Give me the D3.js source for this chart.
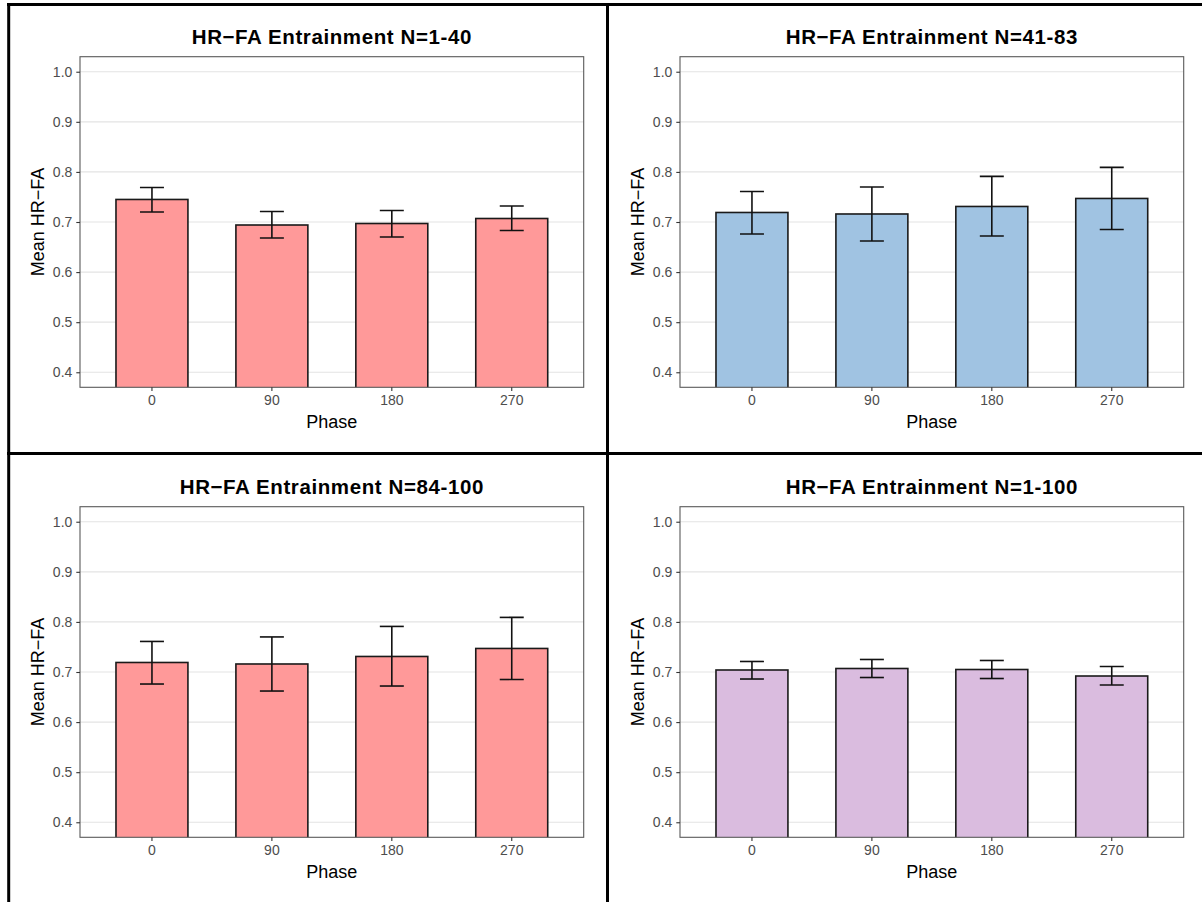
<!DOCTYPE html>
<html>
<head>
<meta charset="utf-8">
<script src="https://cdnjs.cloudflare.com/ajax/libs/d3/7.8.5/d3.min.js"></script>
<style>
  html, body { margin: 0; padding: 0; background: #fff; }
  svg { display: block; font-family: "Liberation Sans", Arial, Helvetica, sans-serif; }
</style>
</head>
<body>
<svg id="chart" width="1202" height="902"></svg>
<script>
// ---- data ----
const phases = ["0", "90", "180", "270"];
const yTicks = [0.4, 0.5, 0.6, 0.7, 0.8, 0.9, 1.0];

const titles = [
  "HR\u2212FA Entrainment N=1-40",
  "HR\u2212FA Entrainment N=41-83",
  "HR\u2212FA Entrainment N=84-100",
  "HR\u2212FA Entrainment N=1-100"
];
const fills = ["#FF9999", "#A0C3E2", "#FF9999", "#DABCDF"];

const means1 = [0.745, 0.694, 0.697, 0.707];
const upper1 = [0.769, 0.721, 0.723, 0.732];
const lower1 = [0.720, 0.668, 0.670, 0.683];

const means2 = [0.719, 0.716, 0.731, 0.747];
const upper2 = [0.761, 0.770, 0.791, 0.809];
const lower2 = [0.676, 0.662, 0.672, 0.685];

const means3 = [0.719, 0.716, 0.731, 0.747];
const upper3 = [0.761, 0.770, 0.791, 0.809];
const lower3 = [0.676, 0.662, 0.672, 0.685];

const means4 = [0.704, 0.707, 0.705, 0.692];
const upper4 = [0.721, 0.725, 0.723, 0.711];
const lower4 = [0.686, 0.689, 0.687, 0.674];

const xTitle = "Phase";
const yTitle = "Mean HR\u2212FA";

const panels = [
  { title: titles[0], fill: fills[0], means: means1, upper: upper1, lower: lower1, ox: 0, oy: 0 },
  { title: titles[1], fill: fills[1], means: means2, upper: upper2, lower: lower2, ox: 600, oy: 0 },
  { title: titles[2], fill: fills[2], means: means3, upper: upper3, lower: lower3, ox: 0, oy: 450 },
  { title: titles[3], fill: fills[3], means: means4, upper: upper4, lower: lower4, ox: 600, oy: 450 }
];

// ---- layout ----
const svg = d3.select("#chart");
const PL = 80, PR = 583.7, PT = 56.7, PB = 387.3;

const x = d3.scaleBand().domain(phases).range([PL, PR]).paddingInner(0.4).paddingOuter(0.3);
const y = d3.scaleLinear().domain([0.37, 1.03]).range([PB, PT]);

panels.forEach((p, i) => {
  const g = svg.append("g").attr("transform", `translate(${p.ox},${p.oy})`);
  const clipId = "clip" + i;
  g.append("clipPath").attr("id", clipId)
    .append("rect").attr("x", PL).attr("y", PT).attr("width", PR - PL).attr("height", PB - PT);

  // gridlines
  g.append("g").selectAll("line").data(yTicks).join("line")
    .attr("x1", PL).attr("x2", PR)
    .attr("y1", d => y(d)).attr("y2", d => y(d))
    .attr("stroke", "#E3E3E3").attr("stroke-width", 1.2);

  const plot = g.append("g").attr("clip-path", `url(#${clipId})`);
  // bars
  plot.selectAll("rect.bar").data(phases).join("rect")
    .attr("class", "bar")
    .attr("x", d => x(d))
    .attr("width", x.bandwidth())
    .attr("y", (d, j) => y(p.means[j]))
    .attr("height", (d, j) => y(0) - y(p.means[j]))
    .attr("fill", p.fill)
    .attr("stroke", "#1a1a1a").attr("stroke-width", 1.6);

  // error bars
  const capW = x.step() * 0.2;
  const eb = plot.selectAll("g.eb").data(phases).join("g").attr("class", "eb");
  eb.append("line")
    .attr("x1", d => x(d) + x.bandwidth() / 2).attr("x2", d => x(d) + x.bandwidth() / 2)
    .attr("y1", (d, j) => y(p.upper[j])).attr("y2", (d, j) => y(p.lower[j]))
    .attr("stroke", "#111").attr("stroke-width", 1.6);
  eb.append("line")
    .attr("x1", d => x(d) + x.bandwidth() / 2 - capW / 2).attr("x2", d => x(d) + x.bandwidth() / 2 + capW / 2)
    .attr("y1", (d, j) => y(p.upper[j])).attr("y2", (d, j) => y(p.upper[j]))
    .attr("stroke", "#111").attr("stroke-width", 1.6);
  eb.append("line")
    .attr("x1", d => x(d) + x.bandwidth() / 2 - capW / 2).attr("x2", d => x(d) + x.bandwidth() / 2 + capW / 2)
    .attr("y1", (d, j) => y(p.lower[j])).attr("y2", (d, j) => y(p.lower[j]))
    .attr("stroke", "#111").attr("stroke-width", 1.6);

  // panel border
  g.append("rect").attr("x", PL).attr("y", PT).attr("width", PR - PL).attr("height", PB - PT)
    .attr("fill", "none").attr("stroke", "#5a5a5a").attr("stroke-width", 1.1);

  // axes
  const ya = g.append("g").attr("transform", `translate(${PL},0)`)
    .call(d3.axisLeft(y).tickValues(yTicks).tickFormat(d3.format(".1f")).tickSize(3.7).tickPadding(4));
  ya.select(".domain").remove();
  ya.selectAll(".tick line").attr("stroke", "#333").attr("stroke-width", 1.1);
  ya.selectAll(".tick text").attr("fill", "#4D4D4D").style("font-size", "14px")
    .style("font-family", "'Liberation Sans', Arial, sans-serif");

  const xa = g.append("g").attr("transform", `translate(0,${PB})`)
    .call(d3.axisBottom(x).tickSize(3.7).tickPadding(4));
  xa.select(".domain").remove();
  xa.selectAll(".tick line").attr("stroke", "#333").attr("stroke-width", 1.1);
  xa.selectAll(".tick text").attr("fill", "#4D4D4D").style("font-size", "14px")
    .style("font-family", "'Liberation Sans', Arial, sans-serif");

  // titles
  g.append("text").attr("x", (PL + PR) / 2).attr("y", 44.3)
    .attr("text-anchor", "middle").style("font-size", "20.5px").style("font-weight", "bold")
    .style("letter-spacing", "0.6px")
    .attr("fill", "#000").text(p.title);
  g.append("text").attr("x", (PL + PR) / 2).attr("y", 428)
    .attr("text-anchor", "middle").style("font-size", "18px").attr("fill", "#000").text(xTitle);
  g.append("text").attr("transform", `translate(43.5,${(PT + PB) / 2}) rotate(-90)`)
    .attr("text-anchor", "middle").style("font-size", "18px").attr("fill", "#000").text(yTitle);
});

// frame lines
const frame = svg.append("g").attr("stroke", "#000").attr("stroke-width", 3);
frame.append("line").attr("x1", 7).attr("x2", 1202).attr("y1", 4.5).attr("y2", 4.5);
frame.append("line").attr("x1", 8.7).attr("x2", 8.7).attr("y1", 3).attr("y2", 902);
frame.append("line").attr("x1", 607.5).attr("x2", 607.5).attr("y1", 3).attr("y2", 902);
frame.append("line").attr("x1", 7).attr("x2", 1202).attr("y1", 453.5).attr("y2", 453.5);
</script>
</body>
</html>
